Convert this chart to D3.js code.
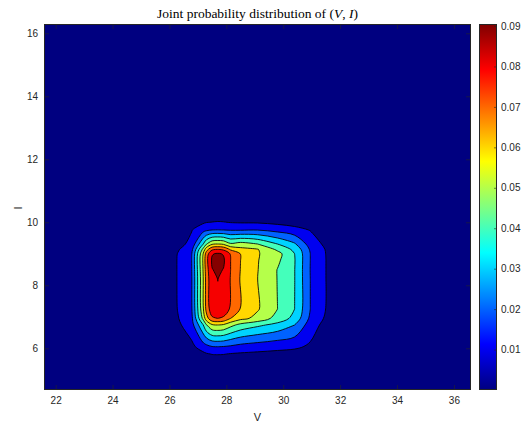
<!DOCTYPE html>
<html><head><meta charset="utf-8">
<script src="https://cdn.jsdelivr.net/npm/d3@7"></script>
<style>body{margin:0;background:#fff}svg{display:block}</style>
</head><body>
<svg id="c" width="521" height="425"></svg>
<script>
// ---- data ----
const vNodes = [25.8, 26.3, 26.78, 27.17, 27.3, 27.5, 27.7, 27.9, 28.15, 28.5, 29.1, 29.8, 30.4, 30.95, 31.5, 32.0];
const iNodes = [5.4, 5.82, 6.05, 6.74, 6.95, 7.25, 8.2, 8.5, 8.8, 9.0, 9.14, 9.31, 9.76, 10.0, 10.4];
// rows follow iNodes (bottom to top), columns follow vNodes
const density = [
  [0,0,0,0,0,0,0,0,0,0,0,0,0,0,0,0],
  [0,0.0011,0.0025,0.0075,0.0092,0.0104,0.0106,0.0104,0.0095,0.0088,0.0080,0.0072,0.0062,0.0030,0.0012,0],
  [0,0.0025,0.0075,0.0150,0.0170,0.0196,0.0200,0.0196,0.0185,0.0165,0.0148,0.0130,0.0118,0.0085,0.0035,0],
  [0,0.0080,0.0160,0.0385,0.0494,0.0587,0.0600,0.0587,0.0530,0.0470,0.0420,0.0370,0.0300,0.0150,0.0065,0],
  [0,0.0095,0.0175,0.0514,0.0659,0.0783,0.0800,0.0783,0.0700,0.0630,0.0570,0.0460,0.0370,0.0180,0.0085,0],
  [0,0.0105,0.0190,0.0570,0.0732,0.0869,0.0888,0.0869,0.0785,0.0695,0.0610,0.0500,0.0400,0.0200,0.0098,0],
  [0,0.0108,0.0193,0.0578,0.0742,0.0881,0.0901,0.0881,0.0795,0.0692,0.0600,0.0497,0.0402,0.0200,0.0100,0],
  [0,0.0108,0.0196,0.0588,0.0755,0.0897,0.0916,0.0897,0.0800,0.0697,0.0603,0.0497,0.0402,0.0198,0.0100,0],
  [0,0.0108,0.0200,0.0600,0.0770,0.0915,0.0935,0.0915,0.0800,0.0700,0.0605,0.0520,0.0405,0.0200,0.0100,0],
  [0,0.0105,0.0194,0.0582,0.0747,0.0893,0.0912,0.0893,0.0790,0.0697,0.0608,0.0535,0.0400,0.0200,0.0098,0],
  [0,0.0090,0.0171,0.0514,0.0659,0.0783,0.0800,0.0783,0.0685,0.0630,0.0605,0.0480,0.0376,0.0188,0.0094,0],
  [0,0.0067,0.0128,0.0385,0.0494,0.0587,0.0600,0.0587,0.0514,0.0540,0.0500,0.0400,0.0312,0.0156,0.0078,0],
  [0,0.0030,0.0095,0.0160,0.0180,0.0196,0.0200,0.0196,0.0190,0.0190,0.0195,0.0165,0.0132,0.0095,0.0030,0],
  [0,0.0008,0.0040,0.0085,0.0097,0.0102,0.0107,0.0104,0.0096,0.0092,0.0090,0.0075,0.0060,0.0030,0.0010,0],
  [0,0,0,0,0,0,0,0,0,0,0,0,0,0,0,0]
];
const levels = [0.01, 0.02, 0.03, 0.04, 0.05, 0.06, 0.07, 0.08, 0.09];
const xTicks = [22, 24, 26, 28, 30, 32, 34, 36];
const yTicks = [6, 8, 10, 12, 14, 16];
const cbTicks = [0.01, 0.02, 0.03, 0.04, 0.05, 0.06, 0.07, 0.08, 0.09];
const xDomain = [21.59, 36.6];
const yDomain = [4.676, 16.295];
const cbDomain = [0, 0.0905];

// ---- layout ----
const L = 44, R = 471, T = 24, B = 390;
const CBL = 479, CBR = 497;
const axisColor = '#262626';
const svg = d3.select('#c');

function jet(t) {
  const c = v => Math.max(0, Math.min(1, v));
  return d3.rgb(255 * c(1.5 - Math.abs(4 * t - 3)), 255 * c(1.5 - Math.abs(4 * t - 2)), 255 * c(1.5 - Math.abs(4 * t - 1))).toString();
}

const x = d3.scaleLinear().domain(xDomain).range([L, R]);
const y = d3.scaleLinear().domain(yDomain).range([B, T]);
const cb = d3.scaleLinear().domain(cbDomain).range([B, T]);

const defs = svg.append('defs');
defs.append('clipPath').attr('id', 'clip').append('rect').attr('x', L).attr('y', T).attr('width', R - L).attr('height', B - T);

const plot = svg.append('g').attr('clip-path', 'url(#clip)');
plot.append('rect').attr('x', L).attr('y', T).attr('width', R - L).attr('height', B - T).attr('fill', jet(0));

const n = vNodes.length, m = iNodes.length;
const contours = d3.contours().size([n, m]).thresholds(levels)(density.flat());
const vIdx = d3.scaleLinear().domain(d3.range(n)).range(vNodes);
const iIdx = d3.scaleLinear().domain(d3.range(m)).range(iNodes);
const ringLine = d3.line().curve(d3.curveCatmullRomClosed.alpha(0.5));

contours.forEach(c => {
  let d = '';
  c.coordinates.forEach(poly => poly.forEach(ring => {
    const pts = ring.slice(0, -1).map(([cx, cy]) => [x(vIdx(cx - 0.5)), y(iIdx(cy - 0.5))]);
    if (pts.length > 2) d += ringLine(pts);
  }));
  if (d) plot.append('path').attr('d', d)
    .attr('fill', jet(c.value / cbDomain[1]))
    .attr('stroke', '#000').attr('stroke-width', 0.85);
});

// ---- axes ----
const fontSans = 'Liberation Sans, Arial, Helvetica, sans-serif';
function styleAxis(g) {
  g.select('.domain').remove();
  g.selectAll('line').attr('stroke', axisColor).attr('stroke-width', 0.6);
  g.selectAll('text').attr('fill', axisColor).attr('font-size', 10).attr('font-family', fontSans);
}
svg.append('g').attr('transform', `translate(0,${B})`)
  .call(d3.axisBottom(x).tickValues(xTicks).tickSizeInner(-5).tickSizeOuter(0).tickPadding(7).tickFormat(d3.format('d')))
  .call(styleAxis);
svg.append('g').attr('transform', `translate(0,${T})`)
  .call(d3.axisTop(x).tickValues(xTicks).tickSizeInner(-5).tickSizeOuter(0).tickFormat(''))
  .call(styleAxis);
svg.append('g').attr('transform', `translate(${L},0)`)
  .call(d3.axisLeft(y).tickValues(yTicks).tickSizeInner(-5).tickSizeOuter(0).tickPadding(6).tickFormat(d3.format('d')))
  .call(styleAxis);
svg.append('g').attr('transform', `translate(${R},0)`)
  .call(d3.axisRight(y).tickValues(yTicks).tickSizeInner(-5).tickSizeOuter(0).tickFormat(''))
  .call(styleAxis);
svg.append('rect').attr('x', L + 0.5).attr('y', T + 0.5).attr('width', R - L - 1).attr('height', B - T - 1)
  .attr('fill', 'none').attr('stroke', axisColor).attr('stroke-width', 1);

// ---- colorbar ----
const grad = defs.append('linearGradient').attr('id', 'jetgrad').attr('x1', 0).attr('y1', 1).attr('x2', 0).attr('y2', 0);
d3.range(0, 1.0001, 1 / 64).forEach(t => grad.append('stop').attr('offset', t).attr('stop-color', jet(t)));
svg.append('rect').attr('x', CBL).attr('y', T).attr('width', CBR - CBL).attr('height', B - T).attr('fill', 'url(#jetgrad)');
svg.append('g').attr('transform', `translate(${CBR},0)`)
  .call(d3.axisRight(cb).tickValues(cbTicks).tickSizeInner(-3).tickSizeOuter(0).tickPadding(4).tickFormat(d3.format('.2f')))
  .call(styleAxis);
svg.append('rect').attr('x', CBL + 0.5).attr('y', T + 0.5).attr('width', CBR - CBL - 1).attr('height', B - T - 1)
  .attr('fill', 'none').attr('stroke', axisColor).attr('stroke-width', 1);

// ---- labels ----
svg.append('text').attr('x', (L + R) / 2).attr('y', 421).attr('text-anchor', 'middle')
  .attr('font-family', fontSans).attr('font-size', 11).attr('fill', axisColor).text('V');
svg.append('text').attr('transform', 'translate(21.5,208) rotate(-90)').attr('text-anchor', 'middle')
  .attr('font-family', fontSans).attr('font-size', 11).attr('fill', axisColor).text('I');
const title = svg.append('text').attr('x', (L + R) / 2).attr('y', 17.5).attr('text-anchor', 'middle')
  .attr('font-family', 'Liberation Serif, Times New Roman, serif').attr('font-size', 13.5).attr('fill', '#000');
title.append('tspan').text('Joint probability distribution of (');
title.append('tspan').attr('font-style', 'italic').text('V');
title.append('tspan').text(', ');
title.append('tspan').attr('font-style', 'italic').text('I');
title.append('tspan').text(')');
</script>
</body></html>
